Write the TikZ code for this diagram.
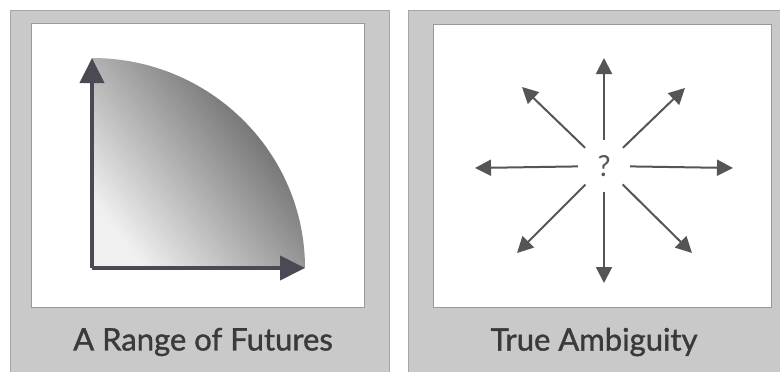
\documentclass[tikz,border=0pt]{standalone}
\usepackage{fontspec}
\setmainfont{Lato}
\newfontfamily\capfont[FakeBold=1.2]{Lato}
\usepackage{tikz}
\usetikzlibrary{arrows.meta, positioning, calc}
\definecolor{panelgray}{RGB}{201,201,201}
\definecolor{axisgray}{RGB}{74,74,84}
\definecolor{spokegray}{RGB}{85,85,85}
\definecolor{labelgray}{RGB}{58,58,58}

\tikzset{
  panel/.style={fill=panelgray, draw=gray!70, line width=0.8pt},
  inner/.style={fill=white, draw=gray!80, line width=0.8pt},
  axis/.style={axisgray, line width=4pt, -{Triangle[length=25pt,width=24pt]}},
  spoke/.style={spokegray, line width=2pt, -{Triangle[length=16pt,width=16pt]}},
  caption/.style={labelgray, font=\capfont\fontsize{31}{34}\selectfont}
}

\begin{document}
\begin{tikzpicture}[x=1pt, y=-1pt]
  \useasboundingbox (0,0) rectangle (780,372);
  % panels
  \draw[panel] (10,10) rectangle (389,380);
  \draw[panel] (408,10) rectangle (790,380);
  \draw[inner] (31,23) rectangle (364,307);
  \draw[inner] (433,24) rectangle (771,307);
  % range of futures
  \coordinate (org) at (92,268);
  \coordinate (ytip) at (92,58);
  \coordinate (xtip) at (305,268);
  \shade[top color=gray!70!black, bottom color=gray!12, shading angle=-52]
    (org) -- (ytip) arc[start angle=-90, end angle=0, x radius=213, y radius=210] -- cycle;
  \draw[axis] (org) -- (ytip);
  \draw[axis] (org) -- (xtip);
  \node[caption] (futures) at (203,342) {A Range of Futures};
  % true ambiguity
  \node[circle, minimum size=52pt, font=\fontsize{29}{31}\selectfont, text=spokegray] (q) at (604,166) {?};
  \foreach \i/\x/\y in {1/604/58, 2/685/88, 3/733/168, 4/692/253, 5/604/283, 6/517/253, 7/475/168, 8/522/87} {
    \coordinate (t\i) at (\x,\y);
    \draw[spoke] (q) -- (t\i);
  }
  \node[caption] (ambig) at (594,342) {True Ambiguity};
\end{tikzpicture}
\end{document}
